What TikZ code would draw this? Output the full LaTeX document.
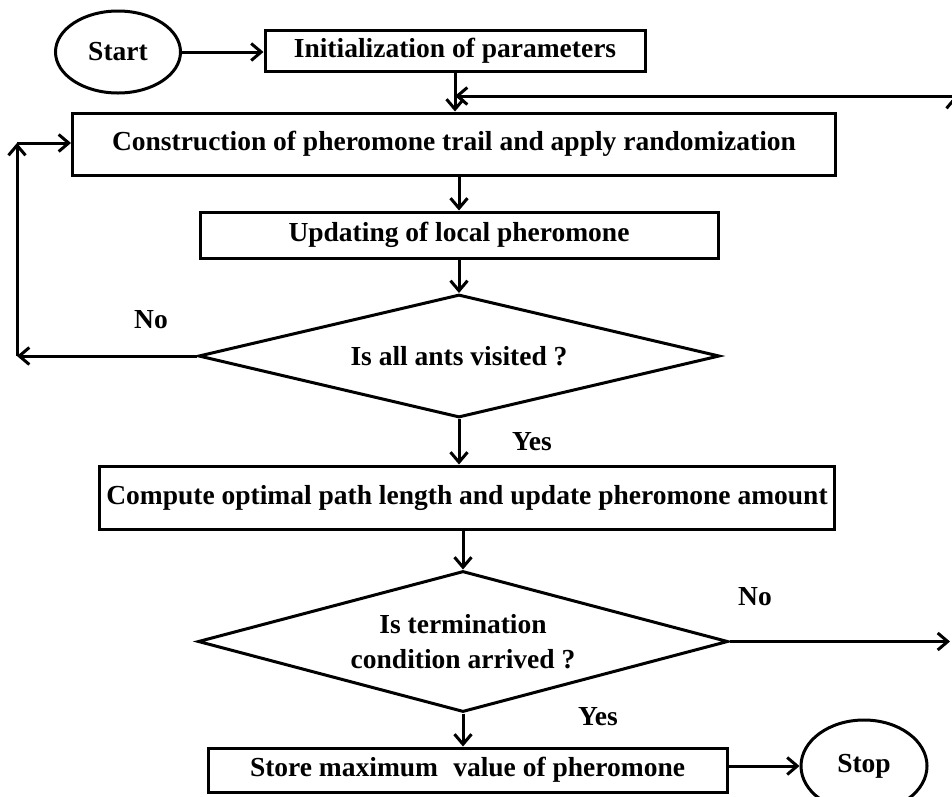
\documentclass[tikz,border=0pt]{standalone}
\usepackage{fontspec}
\setmainfont{Liberation Serif}
\usetikzlibrary{shapes.geometric,arrows.meta}
\begin{document}
\begin{tikzpicture}[x=1pt,y=-1pt,
  every node/.style={font=\fontsize{27.5}{35}\selectfont\bfseries},
  box/.style={draw,line width=3pt,rectangle,inner sep=0pt},
  oval/.style={draw,line width=3pt,ellipse,inner sep=0pt},
  dia/.style={draw,line width=3pt,diamond,inner sep=0pt,aspect=3.8},
  arr/.style={line width=3pt,-{Straight Barb[length=10pt,width=17pt]}},
  lbl/.style={inner sep=0pt}]
\useasboundingbox (0,0) rectangle (952,796);
\clip (0,0) rectangle (952,796);

\node[oval,minimum width=125pt,minimum height=82pt] (start) at (118,52) {Start};
\node[box,minimum width=380pt,minimum height=41pt] (init) at (455,51) {Initialization of parameters};
\node[box,minimum width=763pt,minimum height=62pt] (cons) at (454,144) {Construction of pheromone trail and apply randomization};
\node[box,minimum width=518pt,minimum height=46pt] (upd) at (459,235) {Updating of local pheromone};
\node[dia,minimum width=521pt,minimum height=123pt] (d1) at (459,356) {Is all ants visited ?};
\node[box,minimum width=735pt,minimum height=63pt] (comp) at (467,497.5) {Compute optimal path length and update pheromone amount};
\node[dia,minimum width=530pt,minimum height=141pt,align=center] (d2) at (463,641.5) {Is termination\\condition arrived ?};
\node[box,minimum width=519pt,minimum height=44pt] (store) at (467.5,770) {Store maximum\hspace{0.3em} value of pheromone};
\node[oval,minimum width=126pt,minimum height=92pt] (stop) at (864,766) {Stop};

\node[lbl] (no1) at (151,320) {No};
\node[lbl] (yes1) at (532,442) {Yes};
\node[lbl] (no2) at (755,597) {No};
\node[lbl] (yes2) at (598,717) {Yes};

\draw[arr] (start.east) -- (start.east -| init.west);
\draw[arr] (init.south) -- (init.south |- cons.north);
\draw[arr] (cons.south -| upd) -- (upd.north);
\draw[arr] (upd.south -| d1) -- (d1.north);
\draw[arr] (d1.south) -- (d1.south |- comp.north);
\draw[arr] (comp.south -| d2) -- (d2.north);
\draw[arr] (d2.south) -- (d2.south |- store.north);
\draw[arr] (store.east |- stop) -- (stop.west);

\coordinate (lb) at (17,356);
\coordinate (lt) at (17,143);
\draw[arr] (d1.west) -- (lb);
\draw[arr] (lb) -- (lt);
\draw[arr] (lt) -- (lt -| cons.west);

\coordinate (rb) at (950,641.5);
\draw[arr] (d2.east) -- (rb);
\coordinate (rbo) at (955,641.5);
\coordinate (rt) at (955,96);
\draw[arr] (rbo) -- (rt);
\draw[arr] (rt) -- (rt -| init.south);
\end{tikzpicture}
\end{document}
